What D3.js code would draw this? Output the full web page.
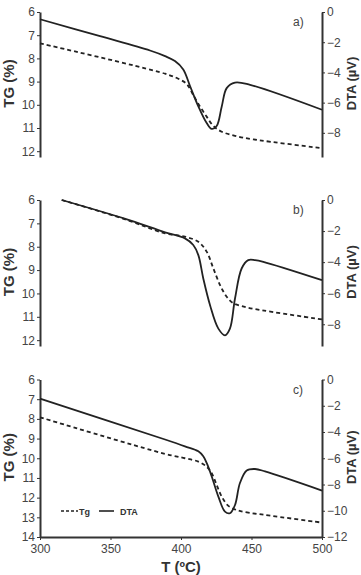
<!DOCTYPE html>
<html>
<head>
<meta charset="utf-8">
<script src="https://cdn.jsdelivr.net/npm/d3@7"></script>
<style>
  body { margin: 0; background: #fff; }
  svg { display: block; font-family: "Liberation Sans", Arial, sans-serif; }
  .axis text { font-size: 12px; fill: #444; }
  .axis path, .axis line { stroke: #333; }
  .axis path { stroke-width: 2; }
  .title { font-weight: bold; fill: #333; }
</style>
</head>
<body>
<svg id="chart" width="361" height="575"></svg>
<script>
// values: [T (ºC), value]
var xTicks = [300, 350, 400, 450, 500];

var dtaA = [[300,-0.48],[342.6,-1.6],[378,-2.55],[388.7,-2.92],[395.7,-3.25],[401.6,-3.8],[406.4,-4.9],[412.3,-6.25],[418.2,-7.35],[421.8,-7.74],[425.3,-7.55],[428.9,-6.25],[432.4,-5.04],[438.3,-4.67],[449,-4.82],[500,-6.47]];
var tgA  = [[300,7.35],[388.7,8.66],[398.1,8.88],[404,9.1],[408.7,9.58],[413.5,10.08],[418.2,10.51],[422.9,10.91],[428.9,11.16],[438.3,11.34],[451.3,11.49],[500,11.87]];

var dtaB = [[315.4,0],[360,-1.2],[388.7,-2.08],[402.8,-2.47],[408.7,-2.9],[412.3,-3.55],[415.8,-5.05],[420.6,-6.77],[426.5,-8.28],[431.2,-8.71],[434.7,-8.28],[438.3,-6.34],[443,-4.41],[447.7,-3.87],[452.5,-3.87],[458.4,-3.98],[500,-5.16]];
var tgB  = [[315.4,6],[360,6.82],[388.7,7.43],[402.8,7.57],[412.3,7.79],[418.2,8.21],[422.9,8.92],[427.7,9.64],[432.4,10.14],[437.1,10.42],[443,10.54],[452.5,10.67],[500,11.11]];

var dtaC = [[300,-1.46],[388.7,-4.57],[402.8,-5.09],[412.3,-5.47],[415.8,-5.85],[418.2,-6.36],[421.8,-7.39],[426.5,-8.92],[431.2,-10.07],[434.7,-10.19],[438.3,-9.56],[441.8,-7.89],[446.6,-6.93],[452.5,-6.82],[459.6,-7.0],[500,-8.46]];
var tgC  = [[300,7.92],[388.7,9.78],[402.8,10.0],[412.3,10.17],[418.2,10.43],[421.8,10.76],[425.3,11.36],[428.9,11.95],[433.6,12.42],[439.5,12.63],[447.7,12.76],[459.6,12.88],[500,13.27]];

var tgTicksAB = [6, 7, 8, 9, 10, 11, 12];
var tgTicksC = [6, 7, 8, 9, 10, 11, 12, 13, 14];
var dtaTicksAB = [0, -2, -4, -6, -8];
var dtaTicksC = [0, -2, -4, -6, -8, -10, -12];

var panels = [
  { label: "a)", top: 12, bottom: 157, tgDomain: [6, 12.25], dtaDomain: [0, -9.6], tgTicks: tgTicksAB, dtaTicks: dtaTicksAB, dta: dtaA, tg: tgA },
  { label: "b)", top: 200, bottom: 346, tgDomain: [6, 12.25], dtaDomain: [0, -9.4], tgTicks: tgTicksAB, dtaTicks: dtaTicksAB, dta: dtaB, tg: tgB },
  { label: "c)", top: 379.5, bottom: 537, tgDomain: [6, 14], dtaDomain: [0, -12], tgTicks: tgTicksC, dtaTicks: dtaTicksC, dta: dtaC, tg: tgC, xAxis: true, legend: true }
];

var svg = d3.select("#chart");
var left = 40, right = 322;
var x = d3.scaleLinear().domain([300, 500]).range([left, right]);
var fmt = d3.format("d");

panels.forEach(function(p) {
  var g = svg.append("g");
  var yTg = d3.scaleLinear().domain(p.tgDomain).range([p.top, p.bottom]);
  var yDta = d3.scaleLinear().domain(p.dtaDomain).range([p.top, p.bottom]);

  g.append("g").attr("class", "axis")
    .attr("transform", "translate(" + left + ",0)")
    .call(d3.axisLeft(yTg).tickValues(p.tgTicks).tickFormat(fmt).tickSize(3).tickSizeOuter(0).tickPadding(2));

  g.append("g").attr("class", "axis")
    .attr("transform", "translate(" + right + ",0)")
    .call(d3.axisRight(yDta).tickValues(p.dtaTicks).tickFormat(fmt).tickSize(3).tickSizeOuter(0).tickPadding(2));

  if (p.xAxis) {
    g.append("g").attr("class", "axis")
      .attr("transform", "translate(0," + p.bottom + ")")
      .call(d3.axisBottom(x).tickValues(xTicks).tickFormat(fmt).tickSize(3).tickSizeOuter(0).tickPadding(4));
  }

  var curve = d3.curveCatmullRom.alpha(0.5);
  var lineDta = d3.line().x(function(d) { return x(d[0]); }).y(function(d) { return yDta(d[1]); }).curve(curve);
  var lineTg = d3.line().x(function(d) { return x(d[0]); }).y(function(d) { return yTg(d[1]); }).curve(curve);

  g.append("path").datum(p.tg).attr("d", lineTg)
    .attr("fill", "none").attr("stroke", "#222").attr("stroke-width", 1.8).attr("stroke-dasharray", "4,3");
  g.append("path").datum(p.dta).attr("d", lineDta)
    .attr("fill", "none").attr("stroke", "#222").attr("stroke-width", 1.8);

  var mid = (p.top + p.bottom) / 2 - 1;
  g.append("text").attr("class", "title")
    .attr("transform", "translate(14," + mid + ") rotate(-90)")
    .attr("text-anchor", "middle").style("font-size", "15px").text("TG (%)");
  g.append("text").attr("class", "title")
    .attr("transform", "translate(356," + mid + ") rotate(-90)")
    .attr("text-anchor", "middle").style("font-size", "13px").text("DTA (µV)");

  g.append("text").attr("x", 293).attr("y", p.top + 14)
    .style("font-size", "12px").attr("fill", "#444").text(p.label);

  if (p.legend) {
    var ly = 511;
    g.append("line").attr("x1", 61).attr("x2", 78).attr("y1", ly).attr("y2", ly)
      .attr("stroke", "#222").attr("stroke-width", 1.6).attr("stroke-dasharray", "3,2");
    g.append("text").attr("x", 79).attr("y", ly + 3.5).attr("class", "title").style("font-size", "9px").text("Tg");
    g.append("line").attr("x1", 99).attr("x2", 114).attr("y1", ly).attr("y2", ly)
      .attr("stroke", "#222").attr("stroke-width", 1.6);
    g.append("text").attr("x", 120).attr("y", ly + 3.5).attr("class", "title").style("font-size", "9px").text("DTA");
  }
});

svg.append("text").attr("class", "title")
  .attr("x", 181).attr("y", 572).attr("text-anchor", "middle")
  .style("font-size", "15px").text("T (ºC)");
</script>
</body>
</html>
